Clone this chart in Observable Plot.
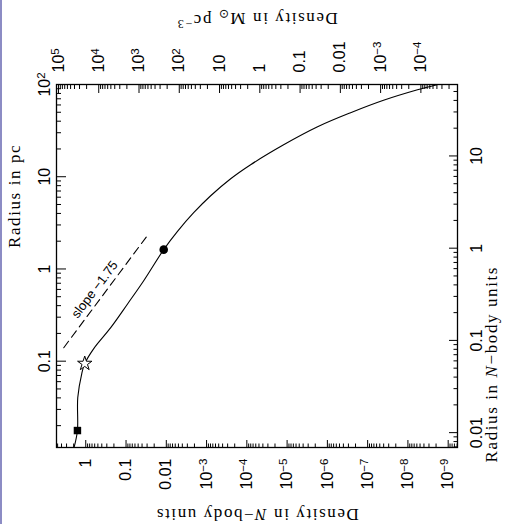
<!DOCTYPE html>
<html><head><meta charset="utf-8">
<script src="https://cdn.jsdelivr.net/npm/d3@7"></script>
<script src="https://cdn.jsdelivr.net/npm/@observablehq/plot@0.6"></script>
<style>
html,body{margin:0;padding:0;background:#fff;}
#wrap{position:relative;width:506px;height:524px;overflow:hidden;}
#edge{position:absolute;left:0;top:0;width:2px;height:524px;background:#8c8cc4;z-index:2;}
</style></head><body><div id="wrap"><div id="edge"></div></div>
<script>
// ---- data (density in N-body units, radius in pc) ----
const curveRho = [1.95, 1.61, 1.58, 1.256, 1.06, 0.633, 0.240, 0.0908, 0.0364, 0.0116,
  0.00521, 0.00209, 7.91e-4, 2.52e-4, 8.05e-5, 1.22e-5, 1.75e-6, 2.65e-7, 4.03e-8, 5.78e-9, 1.9e-9];
const curveR = [0.0116, 0.0177, 0.0404, 0.0735, 0.0942, 0.137, 0.231, 0.420, 0.745, 1.62,
  2.57, 4.07, 6.22, 9.51, 13.5, 22.2, 34.8, 49.4, 67.4, 87.6, 99.5];
const markerKind = ["square", "star", "circle"];
const markerRho = [1.61, 1.06, 0.0116];
const markerR = [0.0177, 0.0942, 1.62];
const slopeRho = [3.52, 0.0273];
const slopeR = [0.140, 2.41];
const slopeText = ["slope −1.75"];
const slopeTextRho = [0.60];
const slopeTextR = [0.60];

// unit conversions between the axes
const PC_PER_NBODY = 1.68;
const MSUN_PC3_PER_NBODY = 2.1e4;

// tick labels
const bottomTicks = [1, 0.1, 0.01, 1e-3, 1e-4, 1e-5, 1e-6, 1e-7, 1e-8, 1e-9];
const bottomLabels = ["1", "0.1", "0.01", "10⁻³", "10⁻⁴", "10⁻⁵", "10⁻⁶", "10⁻⁷", "10⁻⁸", "10⁻⁹"];
const topTicksMsun = [1e5, 1e4, 1e3, 1e2, 10, 1, 0.1, 0.01, 1e-3, 1e-4];
const topLabels = ["10⁵", "10⁴", "10³", "10²", "10", "1", "0.1", "0.01", "10⁻³", "10⁻⁴"];
const leftTicks = [0.1, 1, 10, 100];
const leftLabels = ["0.1", "1", "10", "10²"];
const rightTicksN = [0.01, 0.1, 1, 10];
const rightLabels = ["0.01", "0.1", "1", "10"];

const xDomain = [5.33, 5.87e-10];
const yDomain = [0.01159, 100];

function minors(lo, hi) {
  const out = [];
  for (let k = Math.floor(Math.log10(lo)) - 1; k <= Math.ceil(Math.log10(hi)); k++)
    for (let m = 2; m <= 9; m++) { const v = m * Math.pow(10, k); if (v >= lo && v <= hi) out.push(v); }
  return out;
}
const xmin = Math.min(...xDomain), xmax = Math.max(...xDomain);
const ymin = yDomain[0], ymax = yDomain[1];
const topTicks = topTicksMsun.map(d => d / MSUN_PC3_PER_NBODY);
const rightTicks = rightTicksN.map(d => d * PC_PER_NBODY);
const bottomMinor = minors(xmin, xmax);
const topMinor = minors(xmin * MSUN_PC3_PER_NBODY, xmax * MSUN_PC3_PER_NBODY).map(d => d / MSUN_PC3_PER_NBODY);
const leftMinor = minors(ymin, ymax);
const rightMinor = minors(ymin / PC_PER_NBODY, ymax / PC_PER_NBODY).map(d => d * PC_PER_NBODY);

const pair = (ticks, labels) => ticks.map((v, i) => ({v, t: labels[i]}));

const curve = curveRho.map((d, i) => ({rho: d, r: curveR[i]}));
const markers = markerKind.map((k, i) => ({k, rho: markerRho[i], r: markerR[i]}));
const dash = slopeRho.map((d, i) => ({rho: d, r: slopeR[i]}));
const slopeLab = slopeText.map((t, i) => ({t, rho: slopeTextRho[i], r: slopeTextR[i]}));

const SANS = "Liberation Sans, Arial, sans-serif";
const SERIF = "Liberation Serif, Times New Roman, serif";
const TF = {fontFamily: SANS, fontSize: 16, rotate: -90, text: "t"};

const chart = Plot.plot({
  width: 506, height: 524,
  marginLeft: 56, marginRight: 49, marginTop: 84, marginBottom: 77,
  style: {background: "white", color: "black", fontFamily: SANS, fontSize: "16px"},
  x: {type: "log", domain: xDomain},
  y: {type: "log", domain: yDomain},
  marks: [
    // inward ticks
    Plot.axisX(bottomTicks, {anchor: "bottom", tickSize: -7, fill: "none"}),
    Plot.axisX(bottomMinor, {anchor: "bottom", tickSize: -3.5, fill: "none"}),
    Plot.axisX(topTicks, {anchor: "top", tickSize: -8, fill: "none"}),
    Plot.axisX(topMinor, {anchor: "top", tickSize: -4, fill: "none"}),
    Plot.axisY(leftTicks, {anchor: "left", tickSize: -10, fill: "none"}),
    Plot.axisY(leftMinor, {anchor: "left", tickSize: -5, fill: "none"}),
    Plot.axisY(rightTicks, {anchor: "right", tickSize: -9, fill: "none"}),
    Plot.axisY(rightMinor, {anchor: "right", tickSize: -4.5, fill: "none"}),
    // tick labels
    Plot.text(pair(bottomTicks, bottomLabels), {x: "v", frameAnchor: "bottom", dy: 11, textAnchor: "end", lineAnchor: "middle", ...TF}),
    Plot.text(pair(topTicks, topLabels), {x: "v", frameAnchor: "top", dy: -12, textAnchor: "start", lineAnchor: "middle", ...TF}),
    Plot.text(pair(leftTicks, leftLabels), {y: "v", frameAnchor: "left", dx: -7, textAnchor: "middle", lineAnchor: "bottom", ...TF}),
    Plot.text(pair(rightTicks, rightLabels), {y: "v", frameAnchor: "right", dx: 13, textAnchor: "middle", lineAnchor: "top", ...TF}),
    Plot.frame({stroke: "black", strokeWidth: 1.3}),
    // axis titles
    Plot.text(["Density in N−body units"], {frameAnchor: "bottom", dy: 61, rotate: 180, fontFamily: SERIF, fontSize: 17}),
    Plot.text(["Density in M⊙ pc⁻³"], {frameAnchor: "top", dy: -59, rotate: 180, fontFamily: SERIF, fontSize: 17}),
    Plot.text(["Radius in pc"], {frameAnchor: "left", dx: -42, dy: -18, rotate: -90, fontFamily: SERIF, fontSize: 17}),
    Plot.text(["Radius in N−body units"], {frameAnchor: "right", dx: 34, rotate: -90, fontFamily: SERIF, fontSize: 17}),
    // data
    Plot.line(dash, {x: "rho", y: "r", stroke: "black", strokeWidth: 1.1, strokeDasharray: "8,5"}),
    Plot.text(slopeLab, {x: "rho", y: "r", text: "t", rotate: -53, fontFamily: SANS, fontSize: 13}),
    Plot.line(curve, {x: "rho", y: "r", curve: "catmull-rom", stroke: "black", strokeWidth: 1.1}),
    Plot.dot(markers.filter(d => d.k === "square"), {x: "rho", y: "r", symbol: "square", r: 4.2, fill: "black"}),
    Plot.dot(markers.filter(d => d.k === "star"), {x: "rho", y: "r", symbol: "star", r: 4.5, fill: "white", stroke: "black", strokeWidth: 1}),
    Plot.dot(markers.filter(d => d.k === "circle"), {x: "rho", y: "r", symbol: "circle", r: 4.3, fill: "black"})
  ]
});
document.getElementById("wrap").appendChild(chart);

// italic N, subscript sun symbol, wide title spacing, real superscripts in tick labels
const NS = "http://www.w3.org/2000/svg";
const SUP = {"⁰": "0", "¹": "1", "²": "2", "³": "3", "⁴": "4", "⁵": "5", "⁶": "6", "⁷": "7", "⁸": "8", "⁹": "9", "⁻": "−"};
chart.querySelectorAll("text").forEach(t => {
  const s = t.textContent;
  const mk = (txt, attrs = {}) => { const ts = document.createElementNS(NS, "tspan"); ts.textContent = txt; for (const k in attrs) ts.setAttribute(k, attrs[k]); t.appendChild(ts); return ts; };
  if (s.includes("N−body")) {
    const [a, b] = s.split("N−body");
    t.textContent = "";
    mk(a); mk("N", {"font-style": "italic"}); mk("−body" + b);
    t.style.letterSpacing = "1.6px";
  } else if (s.includes("M⊙")) {
    t.textContent = "";
    mk("Density in M");
    mk("⊙", {dy: "0.3em", "font-size": "12"});
    mk(" pc", {dy: "-0.3em"});
    mk("−3", {dy: "-0.45em", "font-size": "12"});
    t.style.letterSpacing = "1.6px";
  } else if (s === "Radius in pc") {
    t.style.letterSpacing = "1.6px";
  } else if (/^[0-9.]+[⁰¹²³⁴⁵⁶⁷⁸⁹⁻]+$/.test(s)) {
    const m = s.match(/^([0-9.]+)(.+)$/);
    t.textContent = "";
    mk(m[1]);
    mk([...m[2]].map(c => SUP[c]).join(""), {dy: "-0.42em", "font-size": "11.5"});
  }
});
</script></body></html>
